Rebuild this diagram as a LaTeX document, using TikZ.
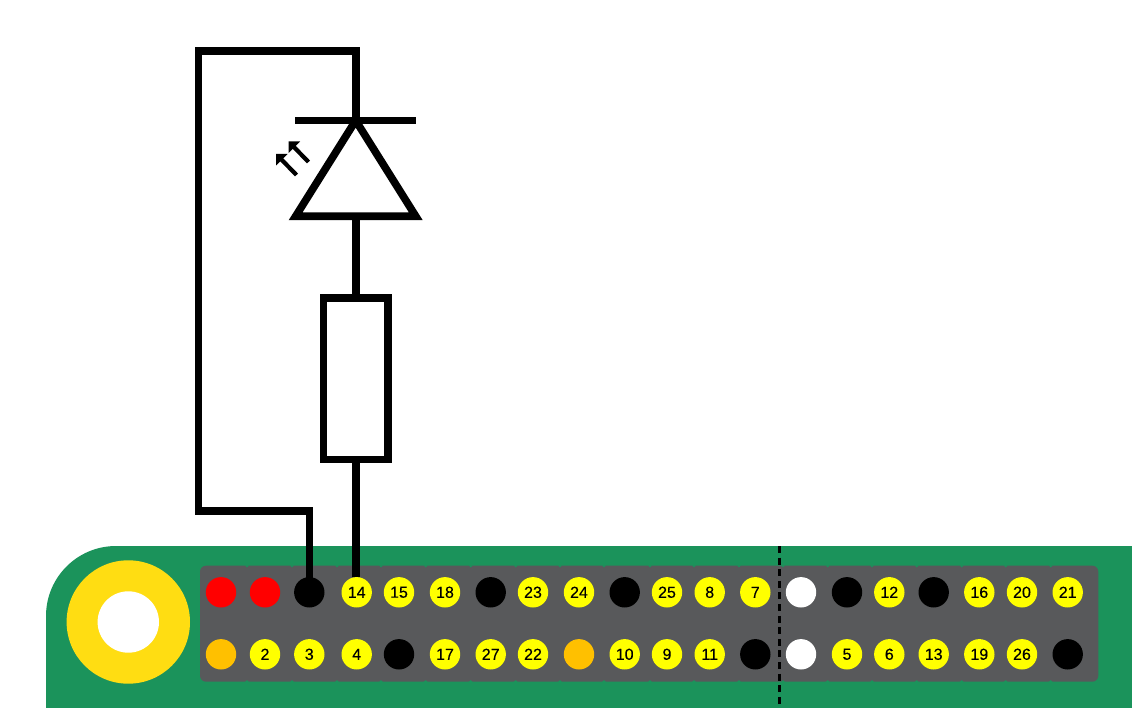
\documentclass[tikz,border=0pt]{standalone}
\usepackage{fontspec}
\usetikzlibrary{calc}
\setmainfont[FakeBold=0.2]{Liberation Sans}
\definecolor{board}{HTML}{1B935B}
\definecolor{ring}{HTML}{FFDD12}
\definecolor{header}{HTML}{58595B}
\definecolor{pinorange}{HTML}{FFC000}
\definecolor{pinyel}{HTML}{FFFF00}
\definecolor{pinrd}{HTML}{FF0000}
\tikzset{
  wire/.style={line width=7.6pt,black,line cap=butt,line join=miter,miter limit=10},
  pinbase/.style={circle,minimum size=30.4pt,inner sep=0pt,font=\fontsize{16}{17}\selectfont,text=black},
  pinyellow/.style={pinbase,fill=pinyel},
  pinblack/.style={pinbase,fill=black},
  pinred/.style={pinbase,fill=pinrd},
  pinwhite/.style={pinbase,fill=white},
  pinamber/.style={pinbase,fill=pinorange},
  resistorbox/.style={draw=black,line width=7.6pt,fill=white,minimum width=64.5pt,minimum height=161.5pt,inner sep=0pt,outer sep=0pt},
  notch/.style={fill=board,draw=none},
  sensearrow/.style={line width=4.2pt,black},
  sensehead/.style={fill=black,draw=none}
}
\begin{document}
\begin{tikzpicture}[x=1pt,y=-1pt]
\useasboundingbox (0,0) rectangle (1132,708);
% board
\fill[board] (46,708) -- (46,616) arc[start angle=180,end angle=270,radius=70] -- (1132,546) -- (1132,708) -- cycle;
% mounting hole
\fill[ring] (128.3,622) circle[radius=61.7];
\fill[white] (128.3,622) circle[radius=30.7];
% header
\fill[header,rounded corners=6pt] (200,565.7) rectangle (1098.3,681.7);
\foreach \n in {247,292,337,381,425.7,470.7,515.7,560,604,650,694,739,783,827.7,872,916.7,961.7,1005.7,1050.7}{
  \fill[notch] (\n-2,565.4) -- (\n+2,565.4) -- (\n,567.3) -- cycle;
  \fill[notch] (\n-2,682) -- (\n+2,682) -- (\n,680.1) -- cycle;
}
% pins: top row
\foreach \x/\nm/\st/\tx in {221/ta/pinred/,265/tb/pinred/,309.3/tc/pinblack/,356.7/td/pinyellow/14,399/te/pinyellow/15,445/tf/pinyellow/18,490.7/tg/pinblack/,533/th/pinyellow/23,579/ti/pinyellow/24,624.7/tj/pinblack/,667/tk/pinyellow/25,709.7/tl/pinyellow/8,755.3/tm/pinyellow/7,801/tn/pinwhite/,847/to/pinblack/,889.3/tp/pinyellow/12,933.7/tq/pinblack/,979.3/tr/pinyellow/16,1022/ts/pinyellow/20,1067.7/tt/pinyellow/21}{
  \node[\st] (\nm) at (\x,592.3) {\tx};
}
% pins: bottom row
\foreach \x/\nm/\st/\tx in {221/ba/pinamber/,265/bb/pinyellow/2,309.3/bc/pinyellow/3,356.7/bd/pinyellow/4,399/be/pinblack/,445/bf/pinyellow/17,490.7/bg/pinyellow/27,533/bh/pinyellow/22,579/bi/pinamber/,624.7/bj/pinyellow/10,667/bk/pinyellow/9,709.7/bl/pinyellow/11,755.3/bm/pinblack/,801/bn/pinwhite/,847/bo/pinyellow/5,889.3/bp/pinyellow/6,933.7/bq/pinyellow/13,979.3/br/pinyellow/19,1022/bs/pinyellow/26,1067.7/bt/pinblack/}{
  \node[\st] (\nm) at (\x,654.3) {\tx};
}
% divider
\draw[black,line width=3pt,dash pattern=on 7pt off 4.6pt] (779,546) -- (779,706);
% schematic anchors
\coordinate (cathode) at (355.7,120.5);
\coordinate (anodeL) at (295.6,216.3);
\coordinate (anodeR) at (415.8,216.3);
\coordinate (anode) at (355.7,216.3);
\coordinate (barL) at (295,120.5);
\coordinate (barR) at (415.7,120.5);
\coordinate (cornerTR) at (355.7,51.3);
\coordinate (cornerTL) at (198.3,51.3);
\coordinate (cornerBL) at (198.3,511);
\coordinate (cornerBR) at (309.3,511);
\node[resistorbox] (res) at (355.7,378.8) {};
% wires
\draw[wire] (cathode) -- (cornerTR) -- (cornerTL) -- (cornerBL) -- (cornerBR) -- (tc.center);
\draw[wire] (anode) -- (res.north);
\draw[wire] (res.south) -- (res.south |- td.north);
% diode
\draw[wire] (barL) -- (barR);
\draw[wire] (cathode) -- (anodeR) -- (anodeL) -- cycle;
% light arrows
\coordinate (a1s) at (308.5,162);
\coordinate (a1t) at (288.5,141.5);
\coordinate (a2s) at (296.5,175);
\coordinate (a2t) at (276,154);
\draw[sensearrow] (a1s) -- ($(a1t)+(3,3)$);
\draw[sensearrow] (a2s) -- ($(a2t)+(3,3)$);
\fill[sensehead] (a1t) -- ++(11.5,0) -- ++(-11.5,11.5) -- cycle;
\fill[sensehead] (a2t) -- ++(11.5,0) -- ++(-11.5,11.5) -- cycle;
\end{tikzpicture}
\end{document}
